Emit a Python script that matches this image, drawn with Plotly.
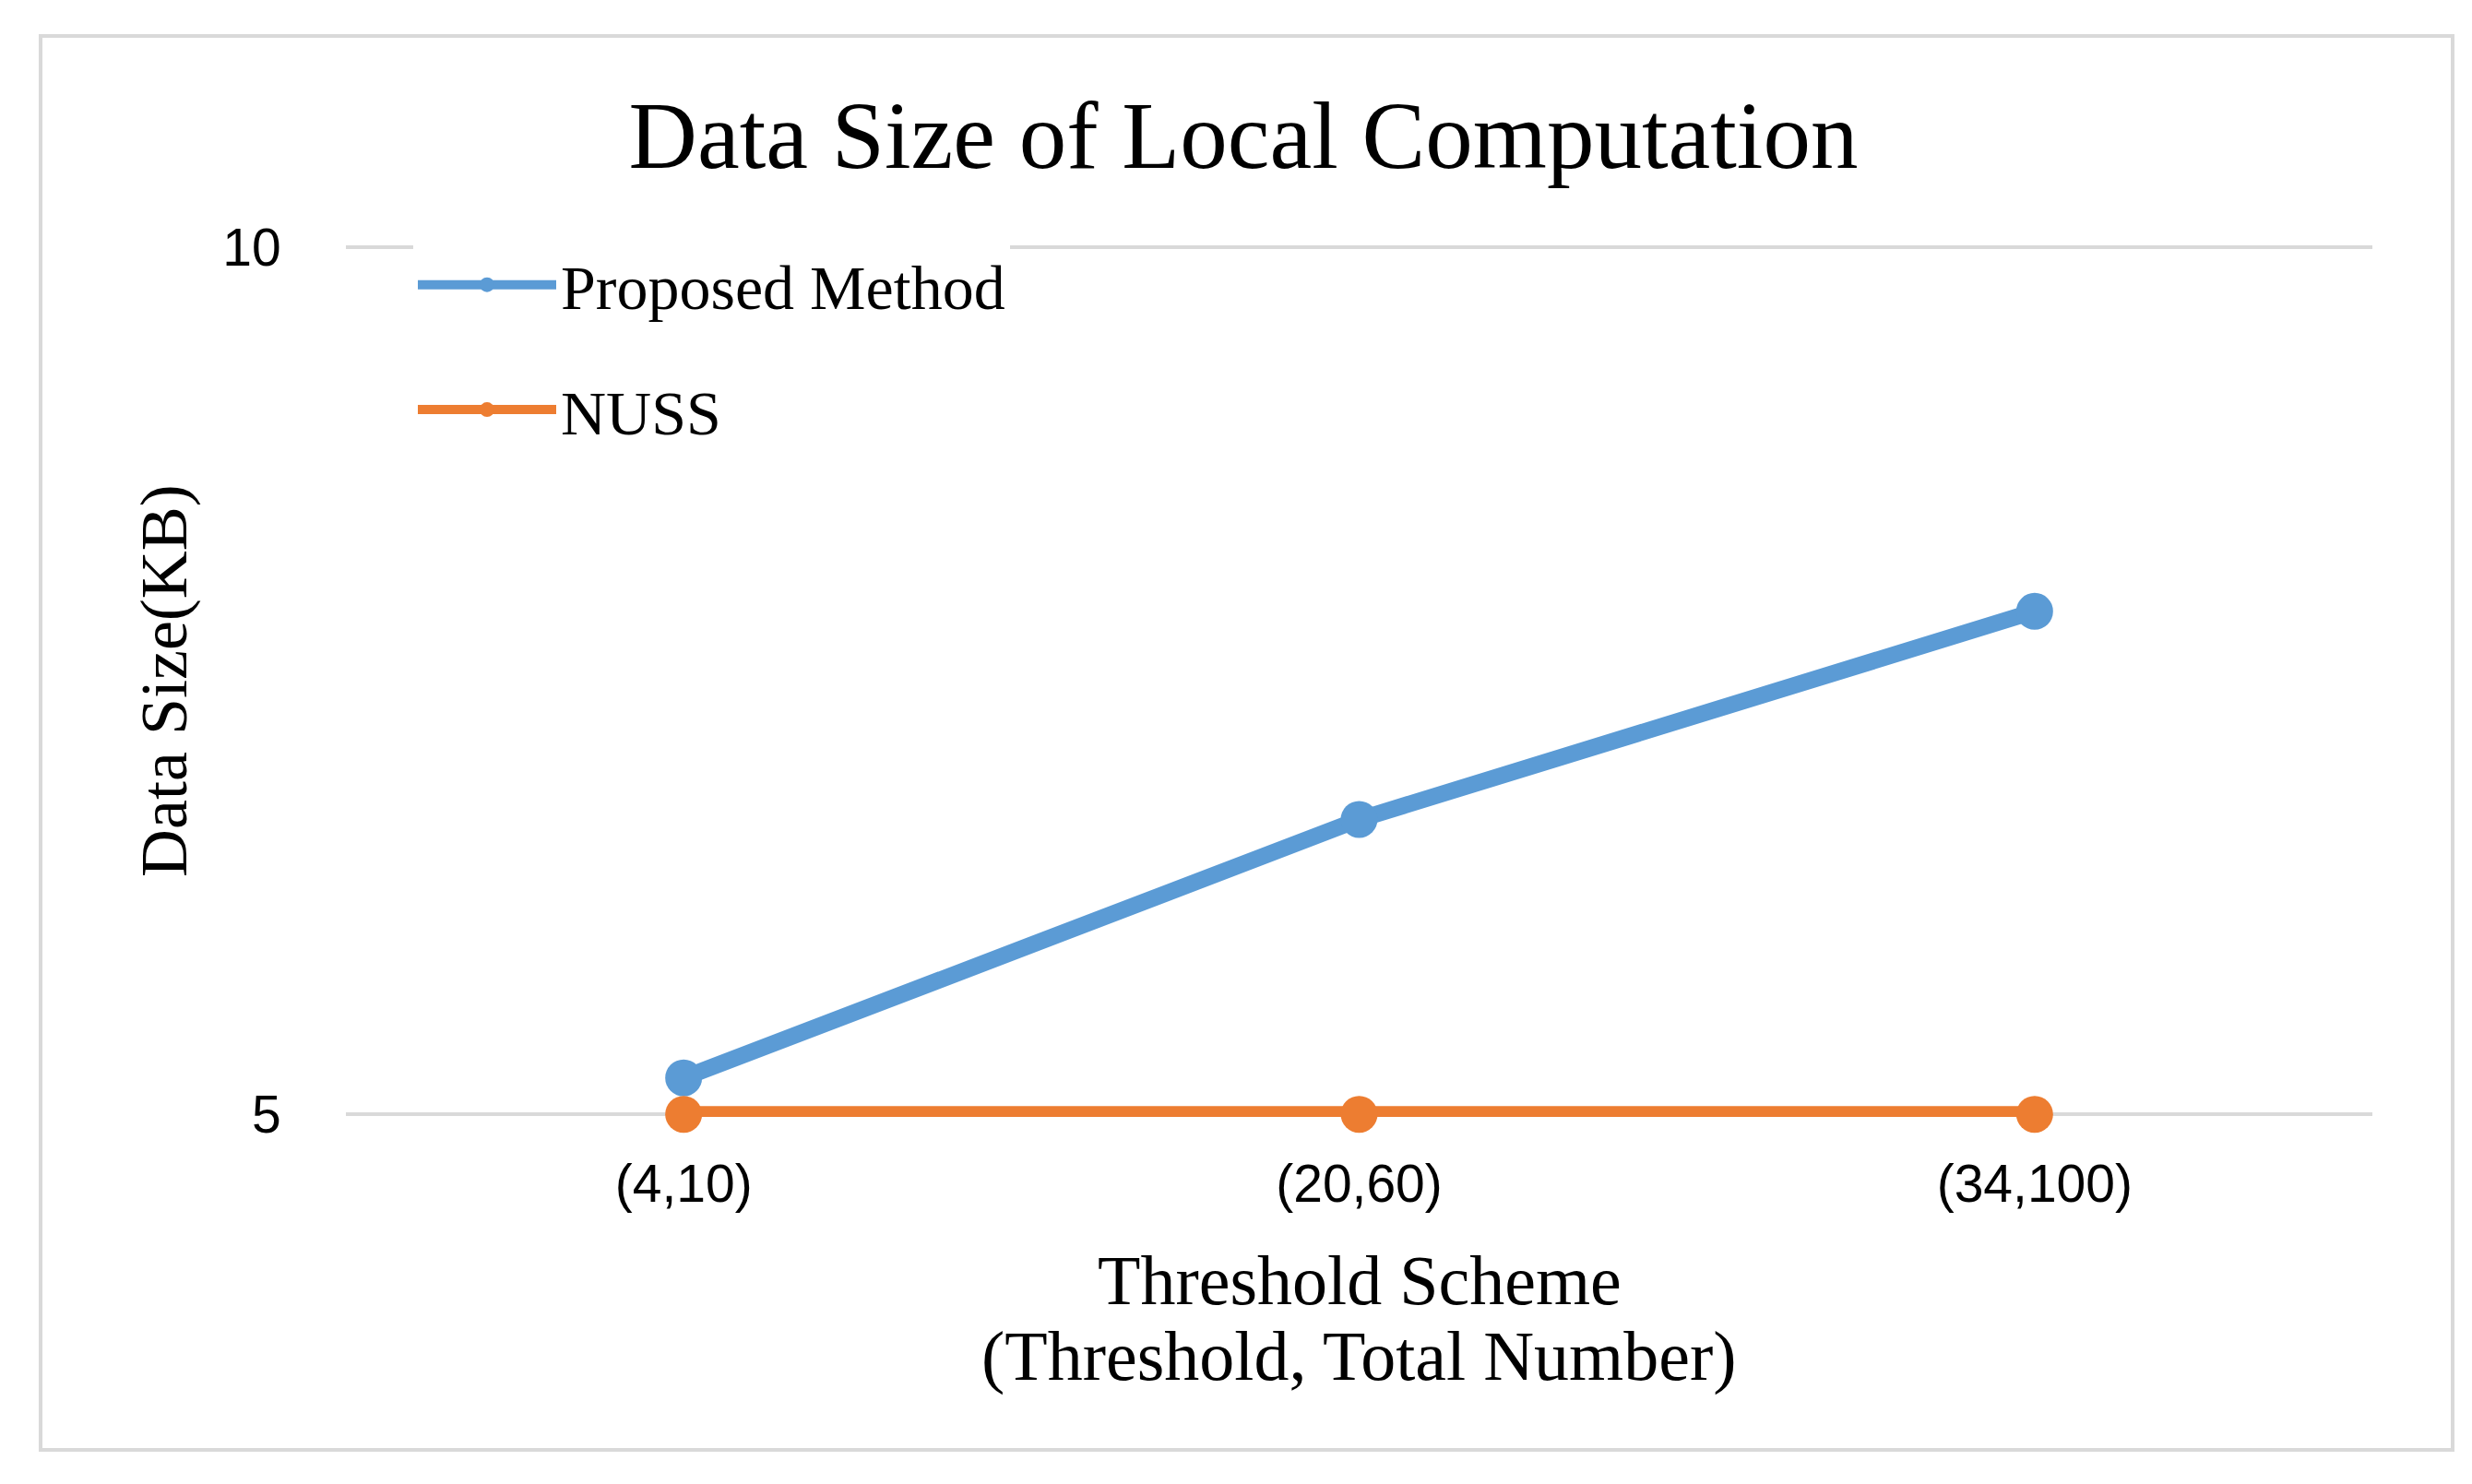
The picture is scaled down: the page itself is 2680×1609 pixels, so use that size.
import plotly.graph_objects as go

categories = ["(4,10)", "(20,60)", "(34,100)"]
proposed = [5.21, 6.70, 7.90]
nuss = [5.0, 5.0, 5.0]
y_ticks = [5, 10]
y_range = [4.985, 10.015]

BLUE = "#5B9BD5"
ORANGE = "#ED7D31"
GRID = "#D9D9D9"
SERIF = "Liberation Serif"
SANS = "Liberation Sans"

W, H = 2680, 1609
L, R, T, B = 367, 116, 257, 406
PW, PH = W - L - R, H - T - B


def px_x(px):
    return (px - L) / PW


def px_y(py):
    return (H - B - py) / PH


fig = go.Figure()
fig.add_trace(go.Scatter(
    x=categories, y=proposed, name="Proposed Method", mode="lines+markers",
    line=dict(color=BLUE, width=18), marker=dict(color=BLUE, size=40),
    cliponaxis=False, legendgroup="a"))
fig.add_trace(go.Scatter(
    x=categories, y=nuss, name="NUSS", mode="lines+markers",
    line=dict(color=ORANGE, width=18), marker=dict(color=ORANGE, size=40),
    cliponaxis=False, legendgroup="b"))

fig.update_layout(
    width=W, height=H,
    margin=dict(l=L, r=R, t=T, b=B, autoexpand=False),
    paper_bgcolor="white", plot_bgcolor="white",
    title=dict(text="Data Size of Local Computation",
               font=dict(family=SERIF, size=103, color="black"),
               x=0.5, xref="container", xanchor="center",
               y=1 - 138 / H, yref="container", yanchor="middle"),
    legend=dict(x=px_x(440), y=px_y(250), xanchor="left", yanchor="top",
                bgcolor="white", font=dict(family=SERIF, size=68, color="black"),
                tracegroupgap=44, itemwidth=150, traceorder="grouped"),
    xaxis=dict(type="category", range=[-0.5, 2.5],
               tickfont=dict(family=SANS, size=57, color="black"),
               ticks="outside", ticklen=23, tickcolor="rgba(0,0,0,0)",
               showgrid=False, showline=False, zeroline=False, fixedrange=True),
    yaxis=dict(range=y_range, tickvals=y_ticks, ticktext=[str(v) for v in y_ticks],
               tickfont=dict(family=SANS, size=57, color="black"),
               ticks="outside", ticklen=58, tickcolor="rgba(0,0,0,0)",
               showgrid=True, gridcolor=GRID, gridwidth=4,
               showline=False, zeroline=False, fixedrange=True),
    annotations=[
        dict(text="Threshold Scheme", xref="paper", yref="paper",
             x=0.5, y=px_y(1380), xanchor="center", yanchor="middle", showarrow=False,
             font=dict(family=SERIF, size=76, color="black")),
        dict(text="(Threshold, Total Number)", xref="paper", yref="paper",
             x=0.5, y=px_y(1462), xanchor="center", yanchor="middle", showarrow=False,
             font=dict(family=SERIF, size=76, color="black")),
        dict(text="Data Size(KB)", xref="paper", yref="paper", textangle=-90,
             x=px_x(170), y=0.5, xanchor="center", yanchor="middle", showarrow=False,
             font=dict(family=SERIF, size=72, color="black")),
    ],
    shapes=[
        dict(type="rect", xref="paper", yref="paper",
             x0=px_x(36), x1=px_x(2651), y0=px_y(1564), y1=px_y(31),
             line=dict(color=GRID, width=4), fillcolor="rgba(0,0,0,0)", layer="below"),
    ],
    showlegend=True,
)

fig.write_html("out.html")
